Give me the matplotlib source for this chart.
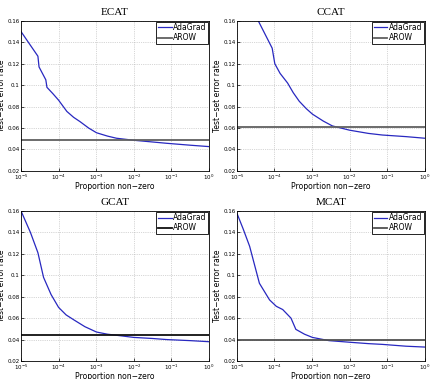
import matplotlib
matplotlib.use("Agg")
import matplotlib.pyplot as plt
import numpy as np

titles = ["ECAT", "CCAT", "GCAT", "MCAT"]

# log10 of proportion non-zero, and test-set error rate of AdaGrad
ecat_x = [-5.0, -4.55, -4.52, -4.34, -4.31, -4.15, -4.0, -3.78, -3.6, -3.43, -3.2, -2.99, -2.7,
          -2.46, -2.0, -1.5, -1.13, -0.5, 0.0]
ecat_y = [0.150, 0.127, 0.117, 0.105, 0.098, 0.092, 0.086, 0.0755, 0.070, 0.066, 0.060, 0.0556,
          0.0525, 0.0505, 0.0486, 0.047, 0.0458, 0.044, 0.0427]
ccat_x = [-4.43, -4.06, -3.99, -3.85, -3.65, -3.5, -3.34, -3.15, -2.99, -2.7, -2.46, -2.0,
          -1.5, -1.13, -0.5, 0.0]
ccat_y = [0.160, 0.1345, 0.120, 0.111, 0.102, 0.093, 0.085, 0.078, 0.073, 0.0665, 0.062, 0.058,
          0.055, 0.0535, 0.052, 0.0505]
gcat_x = [-5.0, -4.75, -4.55, -4.4, -4.2, -4.0, -3.8, -3.6, -3.3, -2.99, -2.7, -2.46, -2.0,
          -1.5, -1.13, -0.5, 0.0]
gcat_y = [0.160, 0.140, 0.121, 0.098, 0.082, 0.070, 0.063, 0.0585, 0.052, 0.047, 0.045, 0.044,
          0.042, 0.041, 0.040, 0.039, 0.038]
mcat_x = [-5.0, -4.83, -4.66, -4.4, -4.13, -3.95, -3.78, -3.56, -3.43, -3.2, -2.99, -2.55,
          -2.0, -1.5, -1.13, -0.5, 0.0]
mcat_y = [0.158, 0.143, 0.127, 0.0925, 0.077, 0.071, 0.068, 0.060, 0.0495, 0.045, 0.042, 0.039,
          0.0375, 0.0362, 0.0355, 0.0338, 0.033]

arow = [0.049, 0.061, 0.044, 0.0392]
arow_colors = ["#606060", "#606060", "#101010", "#505050"]

series = [(ecat_x, ecat_y), (ccat_x, ccat_y), (gcat_x, gcat_y), (mcat_x, mcat_y)]

fig = plt.figure(figsize=(4.33, 3.79), dpi=100)
positions = [
    [0.0485, 0.549, 0.434, 0.396],
    [0.547, 0.549, 0.434, 0.396],
    [0.0485, 0.0475, 0.434, 0.396],
    [0.547, 0.0475, 0.434, 0.396],
]

for i, pos in enumerate(positions):
    ax = fig.add_axes(pos)
    xs, ys = series[i]
    ax.plot(10 ** np.array(xs), ys, color="#2828c0", lw=0.9, label="AdaGrad")
    ax.axhline(arow[i], color=arow_colors[i], lw=1.3, label="AROW")
    ax.set_xscale("log")
    ax.set_xlim(1e-5, 1)
    ax.set_ylim(0.02, 0.16)
    ax.set_yticks([0.02, 0.04, 0.06, 0.08, 0.1, 0.12, 0.14, 0.16])
    ax.set_yticklabels(["0.02", "0.04", "0.06", "0.08", "0.1", "0.12", "0.14", "0.16"])
    ax.minorticks_off()
    ax.grid(True, linestyle=":", color="#b0b0b0", lw=0.5)
    ax.tick_params(labelsize=4, length=2, width=0.5, pad=1, direction="in")
    for s in ax.spines.values():
        s.set_linewidth(0.6)
    ax.set_title(titles[i], fontsize=8, family="Liberation Serif", pad=4)
    ax.set_xlabel("Proportion non\u2212zero", fontsize=5.5, labelpad=0)
    ax.set_ylabel("Test\u2212set error rate", fontsize=5.5, labelpad=1)
    leg = ax.legend(loc="upper right", fontsize=5.5, fancybox=False, framealpha=1,
                    edgecolor="black", borderpad=0.2, handlelength=1.8,
                    handletextpad=0.2, labelspacing=0.15, borderaxespad=0.1)
    leg.get_frame().set_linewidth(0.6)

fig.savefig("out.png", dpi=100)
